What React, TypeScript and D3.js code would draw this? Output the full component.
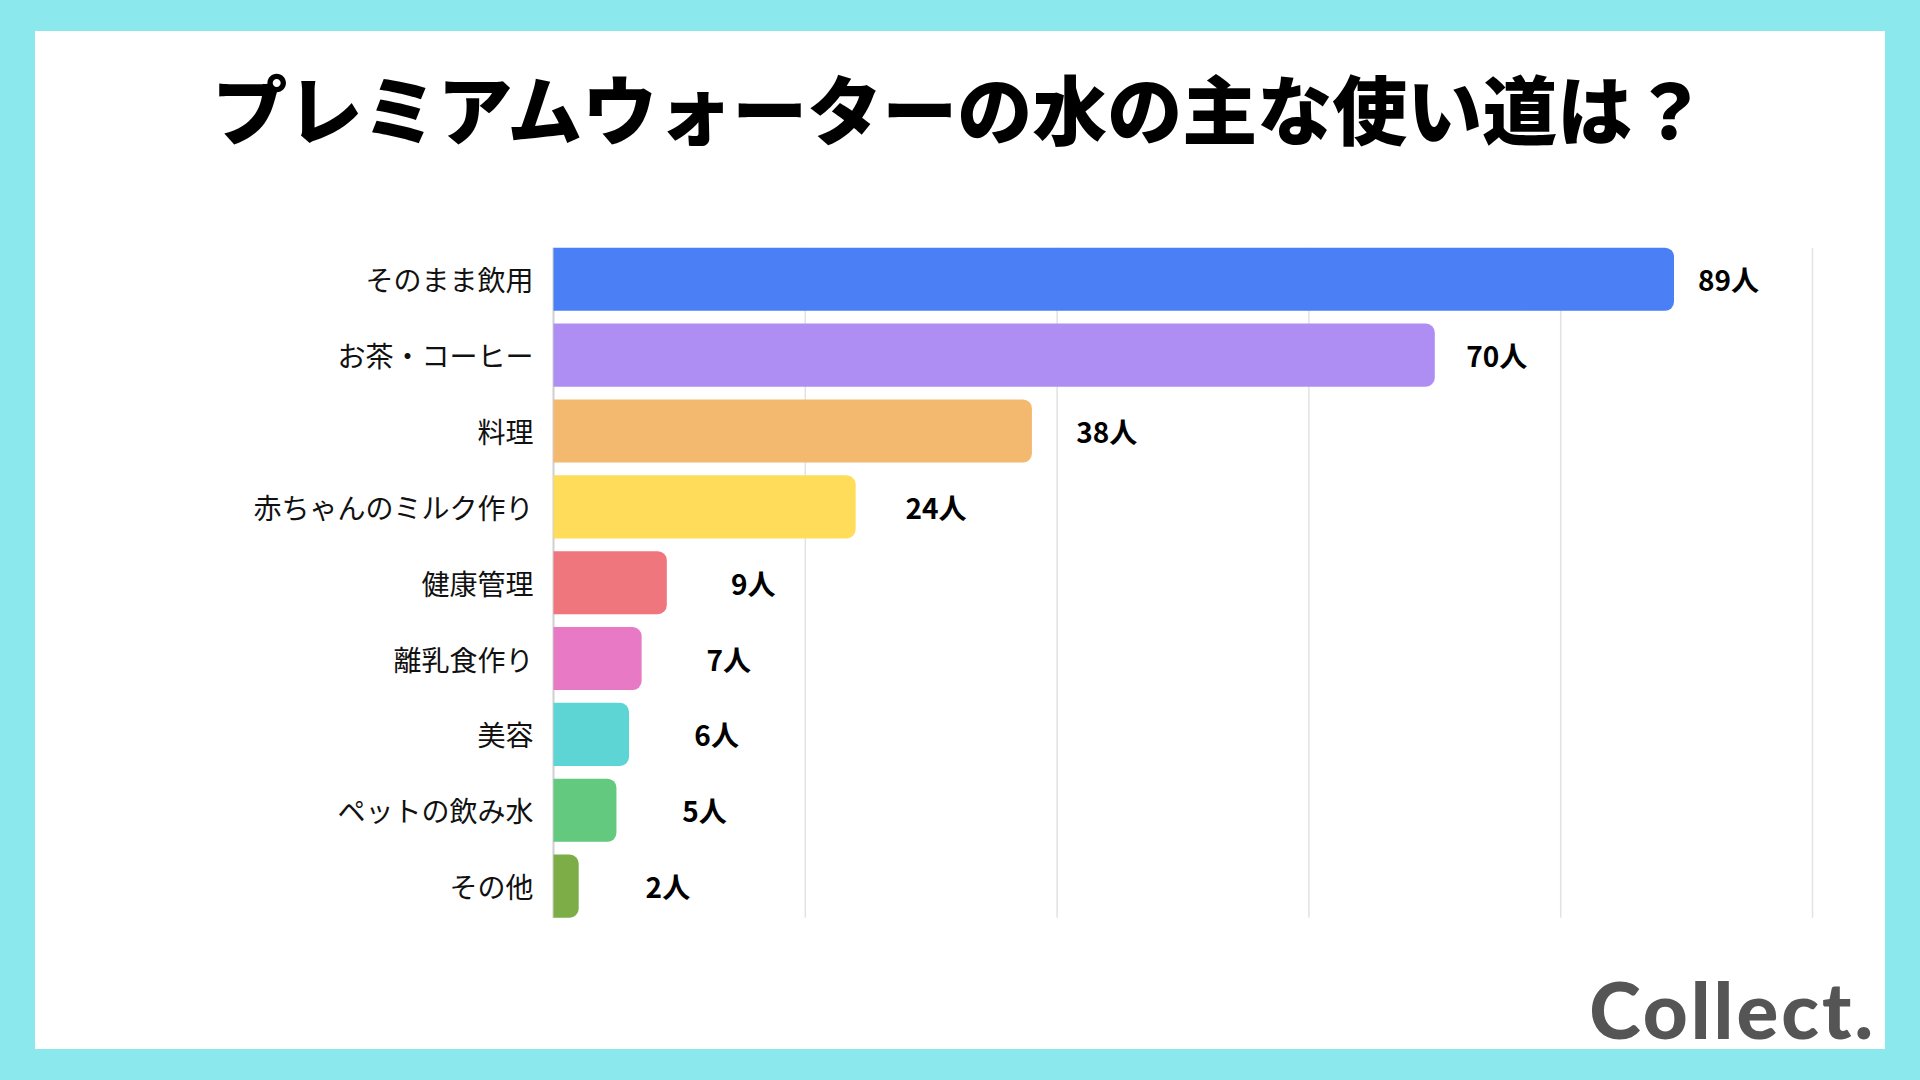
import React, { useEffect } from "react";
import * as d3 from "d3";

const categories = [
  "そのまま飲用",
  "お茶・コーヒー",
  "料理",
  "赤ちゃんのミルク作り",
  "健康管理",
  "離乳食作り",
  "美容",
  "ペットの飲み水",
  "その他",
];
const values = [89, 70, 38, 24, 9, 7, 6, 5, 2];
const colors = [
  "#4A7FF5",
  "#AF8EF4",
  "#F3B96E",
  "#FFDD5A",
  "#EF767D",
  "#E879C4",
  "#5DD5D4",
  "#62C97F",
  "#7DAD46",
];
const gridTicks = [0, 20, 40, 60, 80, 100];
const unit = "人";
const title = "プレミアムウォーターの水の主な使い道は？";

const W = 1920;
const H = 1080;
const JP = "'Noto Sans CJK JP', 'Noto Sans', sans-serif";

function barPath(x0: number, y0: number, w: number, h: number, r: number) {
  const rr = Math.min(r, w / 2, h / 2);
  const p = d3.path();
  p.moveTo(x0, y0);
  p.lineTo(x0 + w - rr, y0);
  p.arcTo(x0 + w, y0, x0 + w, y0 + rr, rr);
  p.lineTo(x0 + w, y0 + h - rr);
  p.arcTo(x0 + w, y0 + h, x0 + w - rr, y0 + h, rr);
  p.lineTo(x0, y0 + h);
  p.closePath();
  return p.toString();
}

export default function App() {
  useEffect(() => {
    document.body.style.margin = "0";
  }, []);

  const x = d3.scaleLinear().domain([0, 100]).range([553.5, 1812.5]);
  const y = d3
    .scaleBand<string>()
    .domain(categories)
    .range([247.7, 917.7])
    .paddingInner(0.168)
    .paddingOuter(0);
  const labelOffset = d3.scaleLinear().domain([0, 100]).range([90, 50]);
  const [gy0, gy1] = y.range();

  return (
    <svg
      width={W}
      height={H}
      viewBox={`0 0 ${W} ${H}`}
      style={{ position: "absolute", left: 0, top: 0, display: "block" }}
    >
      <rect x={0} y={0} width={W} height={H} fill="#8BE9ED" />
      <rect x={35} y={31} width={1850} height={1018} fill="#FFFFFF" />

      <text
        x={960}
        y={106}
        textAnchor="middle"
        dominantBaseline="central"
        fontFamily={JP}
        fontWeight={900}
        fontSize={75}
        fill="#000"
      >
        {title}
      </text>

      <g>
        {gridTicks.map((t) => (
          <line
            key={t}
            x1={x(t)}
            x2={x(t)}
            y1={gy0}
            y2={gy1}
            stroke={t === 0 ? "#CFCFCF" : "#E2E2E2"}
            strokeWidth={t === 0 ? 2 : 1.5}
          />
        ))}
      </g>

      <g>
        {categories.map((c, i) => {
          const y0 = y(c)!;
          const bw = y.bandwidth();
          const v = values[i];
          const x1 = x(v);
          return (
            <g key={c}>
              <path d={barPath(x(0), y0, x1 - x(0), bw, 9)} fill={colors[i]} />
              <text
                x={x(0) - 20}
                y={y0 + bw / 2}
                textAnchor="end"
                dominantBaseline="central"
                fontFamily={JP}
                fontSize={28}
                fill="#111"
              >
                {c}
              </text>
              <text
                x={x1 + labelOffset(v)}
                y={y0 + bw / 2}
                textAnchor="middle"
                dominantBaseline="central"
                fontFamily={JP}
                fontWeight={700}
                fontSize={28}
                fill="#000"
              >
                {v}
                {unit}
              </text>
            </g>
          );
        })}
      </g>

      <text
        x={1876}
        y={1039}
        textAnchor="end"
        fontFamily="Lato, 'Open Sans', sans-serif"
        fontWeight={900}
        fontSize={78}
        letterSpacing={3}
        fill="#555555"
      >
        Collect.
      </text>
    </svg>
  );
}
